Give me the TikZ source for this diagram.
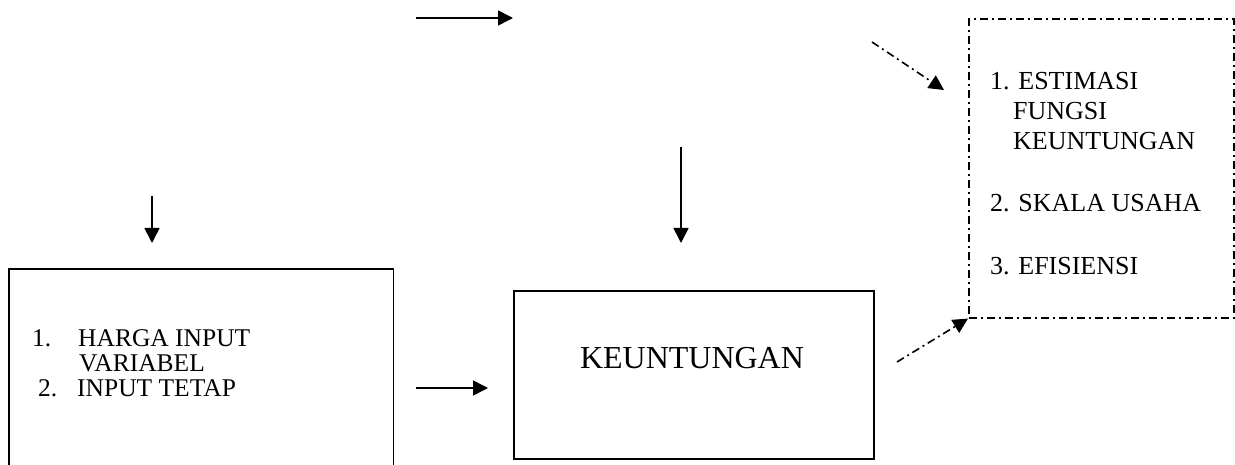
\documentclass[tikz,border=0pt]{standalone}
\usepackage{fontspec}
\setmainfont{Liberation Serif}
\usetikzlibrary{arrows.meta}
\tikzset{
  box/.style={draw, line width=1.6pt, inner sep=0pt, anchor=north west},
  arr/.style={line width=1.6pt, -{Triangle[length=15pt,width=15pt]}},
  dd/.style={line width=1.6pt, dash pattern=on 8pt off 4pt on 2pt off 4pt},
  ltxt/.style={anchor=base west, inner sep=0pt, font=\fontsize{25.5}{30}\selectfont},
  rtxt/.style={anchor=base west, inner sep=0pt, font=\fontsize{26}{30}\selectfont},
  ktxt/.style={anchor=base, inner sep=0pt, font=\fontsize{32}{38}\selectfont},
}
\begin{document}
\begin{tikzpicture}[x=1pt,y=-1pt]
\useasboundingbox (0,0) rectangle (1235,465);
\fill[white] (0,0) rectangle (1235,465);

% left box (bottom edge outside the picture)
\node[anchor=north west, inner sep=0pt, minimum width=384pt, minimum height=196pt] (lb) at (9,269) {};
\draw[line width=1.6pt] (lb.south west) -- (lb.north west) -- (lb.north east) -- (lb.south east);
\node[ltxt] (l1n) at (32,346) {1.};
\node[ltxt] (l1) at (78,346) {HARGA INPUT};
\node[ltxt] (l2) at (79,371) {VARIABEL};
\node[ltxt] (l3n) at (38,396) {2.};
\node[ltxt] (l3) at (77,396) {INPUT TETAP};

% middle box
\node[box, minimum width=360pt, minimum height=168pt] (kb) at (513,290) {};
\node[ktxt] (kt) at (692,368) {KEUNTUNGAN};

% right box
\node[box, dd, minimum width=265pt, minimum height=299pt] (rb) at (968,18) {};
\node[rtxt] (r1) at (990,90) {1. ESTIMASI};
\node[rtxt] (r1b) at (1013,120) {FUNGSI};
\node[rtxt] (r1c) at (1013,150) {KEUNTUNGAN};
\node[rtxt] (r2) at (990,212) {2. SKALA USAHA};
\node[rtxt] (r3) at (990,275) {3. EFISIENSI};

% arrows
\coordinate (a1s) at (416,18);  \coordinate (a1e) at (513,18);
\coordinate (a2s) at (681,147); \coordinate (a2e) at (681,243);
\coordinate (a3s) at (152,196); \coordinate (a3e) at (152,243);
\coordinate (a4s) at (416,388); \coordinate (a4e) at (488,388);
\coordinate (a5s) at (872,42);  \coordinate (a5e) at (944,90);
\coordinate (a6s) at (897,362);
\draw[arr] (a1s) -- (a1e);
\draw[arr] (a2s) -- (a2e);
\draw[arr] (a3s) -- (a3e);
\draw[arr] (a4s) -- (a4e);
\draw[arr, dd] (a5s) -- (a5e);
\draw[arr, dd] (a6s) -- (rb.south west);
\end{tikzpicture}
\end{document}
